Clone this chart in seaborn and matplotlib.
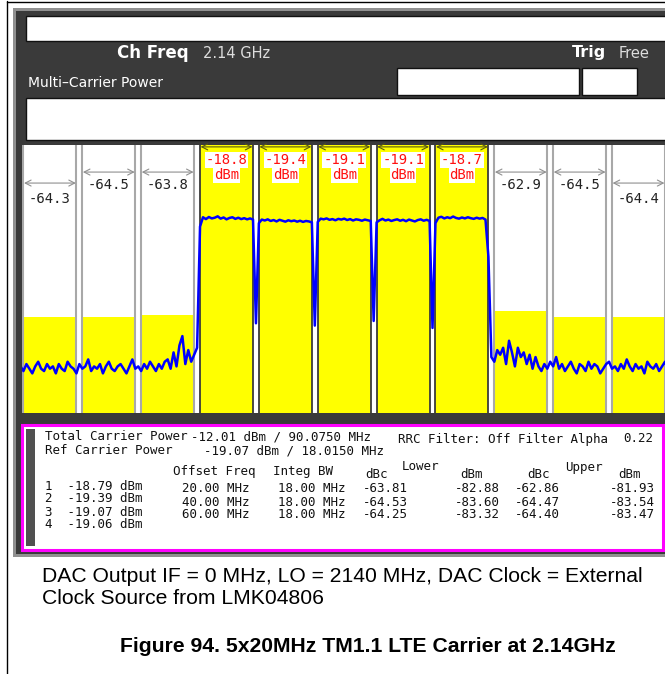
import numpy as np
import pandas as pd
import matplotlib
matplotlib.use('Agg')
import matplotlib.pyplot as plt
import seaborn as sns
from matplotlib.patches import Rectangle

sns.set_theme(style="white")
plt.rcParams['font.family'] = ['DejaVu Sans']

# channel powers shown on screen (lower 3 adjacent, 5 carriers, upper 3 adjacent)
channels = ['L3', 'L2', 'L1', 'C1', 'C2', 'C3', 'C4', 'C5', 'U1', 'U2', 'U3']
channel_dbm = [-64.3, -64.5, -63.8, -18.8, -19.4, -19.1, -19.1, -18.7, -62.9, -64.5, -64.4]
is_carrier = [False, False, False, True, True, True, True, True, False, False, False]

# spectrum trace, one point per MHz from -110 to +110 MHz offset
trace_mhz = np.arange(-110, 111)
trace_dbm = (
    [-105, -107, -104, -106, -108, -105, -103, -106, -107, -104,
     -106, -105, -108, -104, -106, -107, -103, -105, -106, -108,
     -104, -106, -105, -102, -107, -105, -106, -104, -108, -105,
     -103, -106, -107, -105, -104, -106, -108, -105, -102, -106,
     -105, -107, -104, -106, -103, -105, -107, -104, -106, -103]
    + [-102, -106, -99, -105, -96, -92, -104, -98, -103, -100, -97]
    + [-45, -41.0, -41.8, -40.9, -41.5, -41.2, -40.6, -41.6, -41.1, -41.9,
       -41.3, -41.0, -41.7, -41.2, -41.8, -41.4, -41.9, -41.5, -42.0]
    + [-86.5]
    + [-43.5, -42.0, -42.4, -41.9, -42.6, -42.2, -42.8, -42.1, -42.5, -42.9,
       -42.3, -42.7, -42.4, -42.9, -42.5, -43.0, -42.6, -42.8, -43.2]
    + [-87.5]
    + [-43.0, -41.6, -41.9, -41.5, -42.1, -41.8, -42.3, -41.7, -42.0, -41.6,
       -42.2, -41.8, -42.4, -41.9, -42.1, -42.5, -42.0, -42.3, -42.6]
    + [-85.5]
    + [-43.2, -42.3, -41.7, -42.4, -42.0, -42.6, -42.2, -41.9, -42.5, -42.1,
       -42.7, -42.0, -42.4, -42.8, -42.2, -41.9, -42.5, -42.1, -42.6]
    + [-88.5]
    + [-43.5, -41.2, -40.8, -41.5, -41.0, -41.4, -40.7, -41.3, -41.6, -41.1,
       -41.5, -41.0, -41.4, -41.7, -41.2, -41.6, -41.3, -42.0]
    + [-58, -101]
    + [-103, -98, -100, -97, -104, -94, -99, -105, -97, -101, -99, -104, -100, -106, -101]
    + [-105, -107, -104, -106, -103, -105, -101, -106, -104, -107,
       -105, -103, -106, -108, -104, -105, -107, -103, -106, -104,
       -105, -108, -106, -104, -103, -106, -105, -107, -104, -106,
       -102, -105, -107, -104, -106, -105, -108, -103, -105, -106,
       -104, -107, -105, -103, -106]
)

# measurement table
total_power = -12.01
total_bw = 90.0750
ref_power = -19.07
ref_bw = 18.0150
carrier_meas = [-18.79, -19.39, -19.07, -19.06]
offset_mhz = [20.00, 40.00, 60.00]
integ_bw = [18.00, 18.00, 18.00]
lower_dbc = [-63.81, -64.53, -64.25]
lower_dbm = [-82.88, -83.60, -83.32]
upper_dbc = [-62.86, -64.47, -64.40]
upper_dbm = [-81.93, -83.54, -83.47]

W, H = 665, 674
fig = plt.figure(figsize=(6.65, 6.74), dpi=100)
ov = fig.add_axes([0, 0, 1, 1])
ov.set_xlim(0, W)
ov.set_ylim(H, 0)
ov.axis('off')


def box(x0, y0, x1, y1, fc, ec='none', lw=0, z=1):
    ov.add_patch(Rectangle((x0, y0), x1 - x0, y1 - y0, facecolor=fc,
                           edgecolor=ec, linewidth=lw, zorder=z))


# page border
ov.plot([6.5, 6.5], [1, H], color='black', lw=1)
ov.plot([6.5, W], [1.5, 1.5], color='black', lw=1)

# instrument screen frame
box(13, 8, 665, 557, '#909090')
box(16, 11, 665, 554, '#3a3a3a')
box(26, 16, 667, 41, 'white', ec='#111111', lw=1, z=2)
box(397, 68, 579, 95, 'white', ec='#111111', lw=1, z=2)
box(582, 68, 637, 95, 'white', ec='#111111', lw=1, z=2)
box(26, 98, 667, 140, 'white', ec='#111111', lw=1, z=2)

ov.text(117, 53, 'Ch Freq', color='white', fontsize=12, fontweight='bold', va='center', zorder=3)
ov.text(203, 53, '2.14 GHz', color='#dddddd', fontsize=10.5, va='center', zorder=3)
ov.text(572, 53, 'Trig', color='white', fontsize=11.5, fontweight='bold', va='center', zorder=3)
ov.text(619, 53, 'Free', color='#dddddd', fontsize=10.5, va='center', zorder=3)
ov.text(28, 83, 'Multi\u2013Carrier Power', color='white', fontsize=10, va='center', zorder=3)

# spectrum display
pos = [22 / W, 1 - 413 / H, 643 / W, 268 / H]
ax_bar = fig.add_axes(pos)
ax_bar.set_facecolor('white')
bar_floor = -89.5
df = pd.DataFrame({'channel': channels,
                   'height': [v - bar_floor for v in channel_dbm]})
sns.barplot(data=df, x='channel', y='height', order=channels, color='#ffff00',
            saturation=1, width=0.9, edgecolor='none', ax=ax_bar)
ax_bar.set_xlim(-0.475, 10.45)
ax_bar.set_ylim(0, 70)
ax_bar.set_xticks([])
ax_bar.set_yticks([])
ax_bar.set_xlabel('')
ax_bar.set_ylabel('')
for s in ax_bar.spines.values():
    s.set_visible(False)

tr = ax_bar.get_xaxis_transform()
mono = 'DejaVu Sans Mono'
for i, (v, car) in enumerate(zip(channel_dbm, is_carrier)):
    lc = '#3a3a3a' if car else '#a8a8a8'
    for e in (i - 0.45, i + 0.45):
        ax_bar.axvline(e, color=lc, lw=1.3 if car else 1.5, zorder=3)
    if car:
        ay, ty1, ty2 = 0.993, 0.944, 0.888
        ac = '#5a5a10'
    elif i in (0, 10):
        ay, ty1 = 0.858, 0.80
        ac = '#909090'
    else:
        ay, ty1 = 0.899, 0.851
        ac = '#909090'
    ax_bar.annotate('', xy=(i + 0.44, ay), xytext=(i - 0.44, ay), xycoords=tr,
                    arrowprops=dict(arrowstyle='<->,head_length=0.35,head_width=0.18',
                                    color=ac, lw=0.8, shrinkA=0, shrinkB=0), zorder=4)
    if car:
        ax_bar.text(i, ty1, f'{v:.1f}', transform=tr, ha='center', va='center',
                    color='#ff1010', fontsize=10, family=mono, zorder=5,
                    bbox=dict(facecolor='white', edgecolor='none', pad=0.6))
        ax_bar.text(i, ty2, 'dBm', transform=tr, ha='center', va='center',
                    color='#ff1010', fontsize=10, family=mono, zorder=5,
                    bbox=dict(facecolor='white', edgecolor='none', pad=0.6))
    else:
        ax_bar.text(i, ty1, f'{v:.1f}', transform=tr, ha='center', va='center',
                    color='#222222', fontsize=10, family=mono, zorder=5)

ax_tr = fig.add_axes(pos)
ax_tr.patch.set_alpha(0)
sns.lineplot(x=trace_mhz, y=trace_dbm, color='#0000ff', lw=1.8,
             estimator=None, ax=ax_tr)
ax_tr.set_xlim(-109.5, 109)
ax_tr.set_ylim(-125, -10)
ax_tr.axis('off')

# measurement panel
box(22, 425, 663, 550, 'white', ec='#ff00ff', lw=2.2, z=2)
box(26, 429, 35, 546, '#505050', z=3)

def pt(x, y, s):
    ov.text(x, y, s, family=mono, fontsize=9, color='#111111', va='center', zorder=4)

pt(45, 437, 'Total Carrier Power')
pt(191, 437, f'{total_power:.2f} dBm / {total_bw:.4f} MHz')
pt(398, 439, 'RRC Filter: Off Filter Alpha')
pt(623, 439, '0.22')
pt(45, 451, 'Ref Carrier Power')
pt(204, 451, f'{ref_power:.2f} dBm / {ref_bw:.4f} MHz')
pt(173, 472, 'Offset Freq')
pt(273, 472, 'Integ BW')
pt(365, 474, 'dBc')
pt(402, 467, 'Lower')
pt(460, 474, 'dBm')
pt(527, 474, 'dBc')
pt(565, 467, 'Upper')
pt(618, 474, 'dBm')
for k, p in enumerate(carrier_meas):
    pt(45, 486 + 13 * k, f'{k + 1}  {p:.2f} dBm')
for k in range(3):
    y = 489 + 13 * k
    pt(182, y, f'{offset_mhz[k]:.2f} MHz')
    pt(278, y, f'{integ_bw[k]:.2f} MHz')
    pt(363, y, f'{lower_dbc[k]:.2f}')
    pt(455, y, f'{lower_dbm[k]:.2f}')
    pt(515, y, f'{upper_dbc[k]:.2f}')
    pt(610, y, f'{upper_dbm[k]:.2f}')

# caption
cap = 'Liberation Sans'
ov.text(42, 577, 'DAC Output IF = 0 MHz, LO = 2140 MHz, DAC Clock = External',
        family=cap, fontsize=15.2, va='center', color='black')
ov.text(42, 599, 'Clock Source from LMK04806', family=cap, fontsize=15.2,
        va='center', color='black')
ov.text(120, 647, 'Figure 94. 5x20MHz TM1.1 LTE Carrier at 2.14GHz', family=cap,
        fontsize=15.2, fontweight='bold', va='center', color='black')

fig.savefig('out.png', dpi=100)
